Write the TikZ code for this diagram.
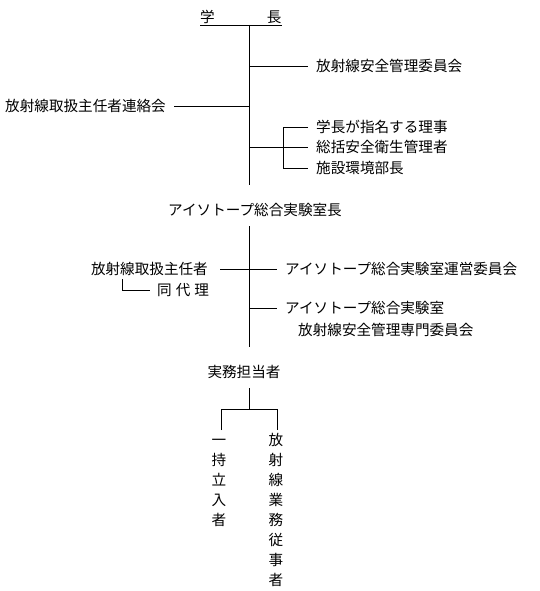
\documentclass[tikz,border=0pt]{standalone}
\usepackage{fontspec}
\newfontfamily\jp{Noto Sans CJK JP}
\begin{document}
\begin{tikzpicture}[x=1pt,y=-1pt,
  every node/.style={inner sep=0pt, font=\jp\fontsize{14.6}{20}\selectfont},
  lbl/.style={anchor=west},
  vlbl/.style={anchor=north, align=center},
  conn/.style={line width=0.8pt}]
\useasboundingbox[fill=white] (0,0) rectangle (540,591);
% section 1
\node[lbl] (gaku) at (200,17) {学\hspace{52pt}長};
\coordinate (t1) at (249,25);
\coordinate (b1) at (249,185);
\node[lbl] (iinkai) at (316,66) {放射線安全管理委員会};
\node[anchor=east] (renraku) at (166,106) {放射線取扱主任者連絡会};
\node[lbl] (riji) at (316,127) {学長が指名する理事};
\node[lbl] (eisei) at (316,147) {総括安全衛生管理者};
\node[lbl] (bucho) at (316,168) {施設環境部長};
\coordinate (br) at (283,147);
\draw[conn] (gaku.west |- t1) -- (gaku.east |- t1);
\draw[conn] (t1) -- (b1);
\draw[conn] (t1 |- iinkai.west) -- ([xshift=-8pt]iinkai.west);
\draw[conn] ([xshift=8pt]renraku.east) -- (t1 |- renraku.east);
\draw[conn] (t1 |- eisei.west) -- ([xshift=-8pt]eisei.west);
\draw[conn] ([xshift=-8pt]riji.west) -- (br |- riji.west) -- (br |- bucho.west) -- ([xshift=-8pt]bucho.west);
% section 2
\node (shitsucho) at (255,210) {アイソトープ総合実験室長};
\coordinate (t2) at (249,226);
\coordinate (b2) at (249,347);
\node[anchor=east] (shunin) at (208,269) {放射線取扱主任者};
\node[lbl] (dairi) at (157,290) {同\hspace{4pt}代\hspace{4pt}理};
\node[lbl] (unei) at (285,269) {アイソトープ総合実験室運営委員会};
\node[lbl] (senmon1) at (285,308) {アイソトープ総合実験室};
\node[lbl] (senmon2) at (298,330) {放射線安全管理専門委員会};
\coordinate (dk) at (122,279);
\draw[conn] (t2) -- (b2);
\draw[conn] ([xshift=12pt]shunin.east) -- ([xshift=-8pt]unei.west);
\draw[conn] (t2 |- senmon1.west) -- ([xshift=-8pt]senmon1.west);
\draw[conn] (dk) -- (dk |- dairi.west) -- ([xshift=-7pt]dairi.west);
% section 3
\node (jitsumu) at (244,372) {実務担当者};
\coordinate (t3) at (249,388);
\coordinate (j3) at (249,409);
\node[vlbl] (ichiji) at (219,433) {\vphantom{放}一\\持\\立\\入\\者};
\node[vlbl] (gyomu) at (276,433) {放\\射\\線\\業\\務\\従\\事\\者};
\draw[conn] (t3) -- (j3);
\draw[conn] ([yshift=3pt]ichiji.north -| 221,0) -- (221,409) -- (277,409) -- ([yshift=3pt]gyomu.north -| 277,0);
\end{tikzpicture}
\end{document}
